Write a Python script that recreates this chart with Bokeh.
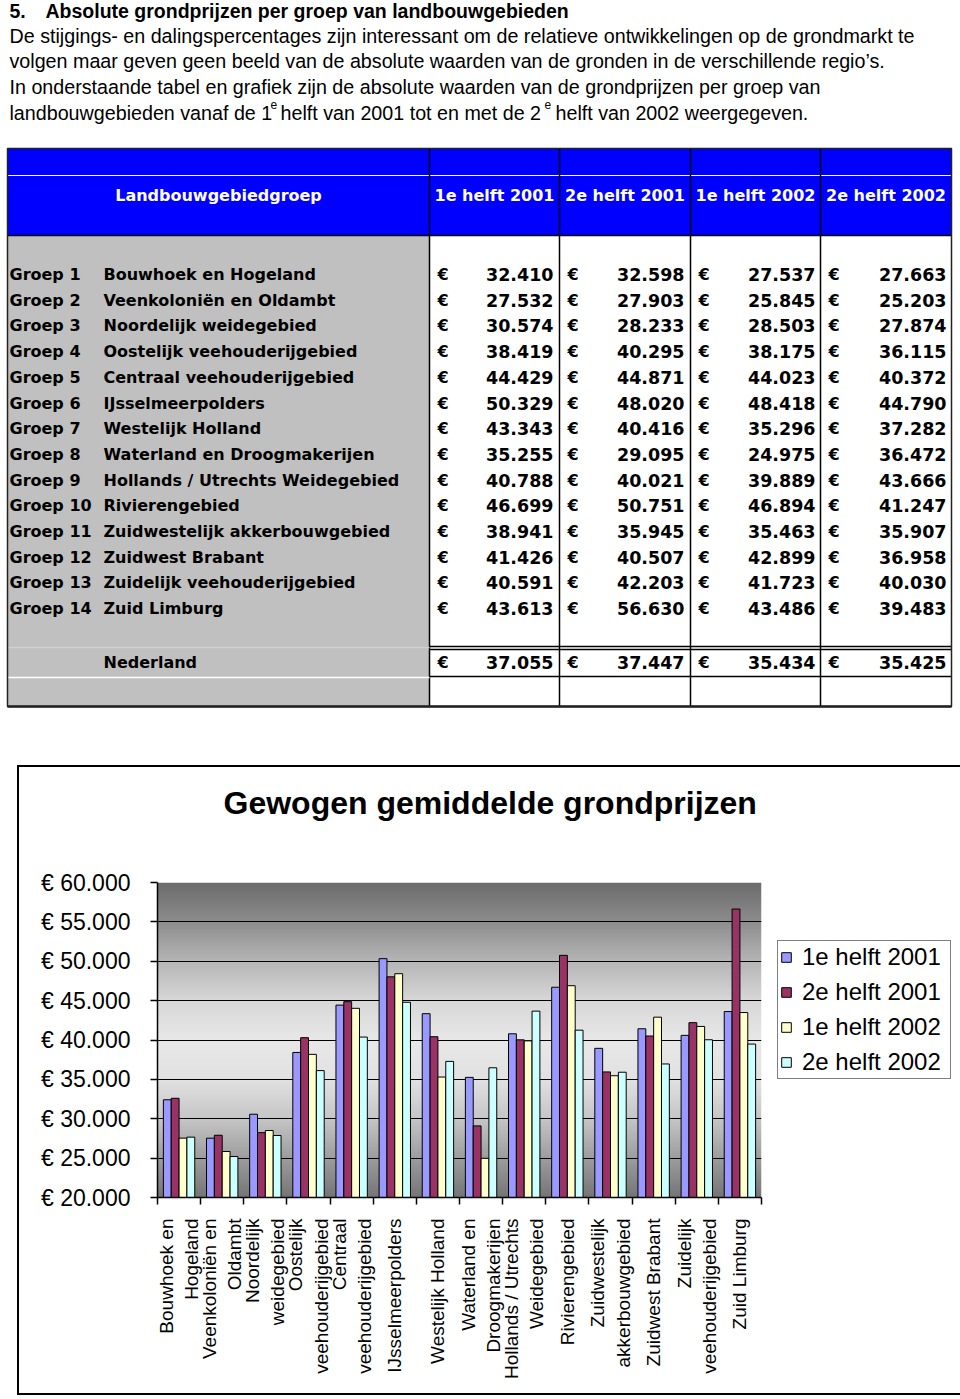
import math
import numpy as np
from bokeh.plotting import figure
from bokeh.models import Range1d, FixedTicker, Legend, LegendItem
from bokeh.layouts import column
from bokeh.embed import file_html
from bokeh.resources import INLINE
from bokeh.core.properties import value

# ---------------- data ----------------
heading_num = "5."
heading = "Absolute grondprijzen per groep van landbouwgebieden"
para_lines = [
    "De stijgings- en dalingspercentages zijn interessant om de relatieve ontwikkelingen op de grondmarkt te",
    "volgen maar geven geen beeld van de absolute waarden van de gronden in de verschillende regio\u2019s.",
    "In onderstaande tabel en grafiek zijn de absolute waarden van de grondprijzen per groep van",
]
last_line_parts = ["landbouwgebieden vanaf de 1", " helft van 2001 tot en met de 2", " helft van 2002 weergegeven."]
sup_text = "e"

header_first = "Landbouwgebiedgroep"
periods = ["1e helft 2001", "2e helft 2001", "1e helft 2002", "2e helft 2002"]
groups = ["Groep 1", "Groep 2", "Groep 3", "Groep 4", "Groep 5", "Groep 6", "Groep 7",
          "Groep 8", "Groep 9", "Groep 10", "Groep 11", "Groep 12", "Groep 13", "Groep 14"]
regions = ["Bouwhoek en Hogeland", "Veenkoloniën en Oldambt", "Noordelijk weidegebied",
           "Oostelijk veehouderijgebied", "Centraal veehouderijgebied", "IJsselmeerpolders",
           "Westelijk Holland", "Waterland en Droogmakerijen", "Hollands / Utrechts Weidegebied",
           "Rivierengebied", "Zuidwestelijk akkerbouwgebied", "Zuidwest Brabant",
           "Zuidelijk veehouderijgebied", "Zuid Limburg"]
h1_2001 = [32410, 27532, 30574, 38419, 44429, 50329, 43343, 35255, 40788, 46699, 38941, 41426, 40591, 43613]
h2_2001 = [32598, 27903, 28233, 40295, 44871, 48020, 40416, 29095, 40021, 50751, 35945, 40507, 42203, 56630]
h1_2002 = [27537, 25845, 28503, 38175, 44023, 48418, 35296, 24975, 39889, 46894, 35463, 42899, 41723, 43486]
h2_2002 = [27663, 25203, 27874, 36115, 40372, 44790, 37282, 36472, 43666, 41247, 35907, 36958, 40030, 39483]
nederland_label = "Nederland"
nederland = [37055, 37447, 35434, 35425]

chart_title = "Gewogen gemiddelde grondprijzen"
axis_labels = ["Bouwhoek en\nHogeland", "Veenkoloniën en\nOldambt", "Noordelijk\nweidegebied",
               "Oostelijk\nveehouderijgebied", "Centraal\nveehouderijgebied", "IJsselmeerpolders",
               "Westelijk Holland", "Waterland en\nDroogmakerijen", "Hollands / Utrechts\nWeidegebied",
               "Rivierengebied", "Zuidwestelijk\nakkerbouwgebied", "Zuidwest Brabant",
               "Zuidelijk\nveehouderijgebied", "Zuid Limburg"]
y_ticks = [20000, 25000, 30000, 35000, 40000, 45000, 50000, 55000, 60000]
series = [h1_2001, h2_2001, h1_2002, h2_2002]
colors = ["#9999FF", "#993366", "#FFFFCC", "#CCFFFF"]


def fmt(v):
    return f"{v:,}".replace(",", ".")


# ---------------- page text + table ----------------
SANS = value("Liberation Sans")
TBL = value("DejaVu Sans")
BOLD = value("bold")

p1 = figure(width=958, height=745, x_range=Range1d(0, 958), y_range=Range1d(745, 0),
            toolbar_location=None, output_backend="svg", min_border=0,
            x_axis_type=None, y_axis_type=None, outline_line_color=None)
p1.frame_align = False
p1.grid.visible = False

# heading and paragraph
p1.text(x=[9, 45], y=[10, 10], text=[heading_num, heading], text_font=SANS, text_font_style=BOLD,
        text_font_size="19.5px", text_baseline="middle", text_color="black")
p1.text(x=[9, 9, 9], y=[35, 60, 86], text=para_lines, text_font=SANS, text_font_size="19.7px",
        text_baseline="middle", text_color="black")
p1.text(x=[9, 280, 555], y=[112, 112, 112], text=last_line_parts, text_font=SANS,
        text_font_size="19.7px", text_baseline="middle", text_color="black")
p1.text(x=[270, 544], y=[104, 104], text=[sup_text, sup_text], text_font=SANS,
        text_font_size="12px", text_baseline="middle", text_color="black")

# table backgrounds
col_edges = [429, 559, 690, 820, 951]
p1.quad(left=[7], right=[951], top=[148], bottom=[235], fill_color="#0000FF", line_color=None)
p1.quad(left=[7], right=[429], top=[235], bottom=[706], fill_color="#C0C0C0", line_color=None)
p1.segment(x0=[7], y0=[175], x1=[951], y1=[175], line_color="white", line_width=1.2)
# lines
p1.segment(x0=col_edges[:-1], y0=[148] * 4, x1=col_edges[:-1], y1=[706] * 4, line_color="black", line_width=1.5)
p1.segment(x0=[7, 429, 429, 429], y0=[235, 646, 649, 676], x1=[951, 951, 951, 951], y1=[235, 646, 649, 676],
           line_color="black", line_width=1.3)
p1.segment(x0=[7, 7], y0=[647, 677], x1=[429, 429], y1=[647, 677], line_color=["#d0d0d0", "white"], line_width=1.5)
p1.quad(left=[7], right=[951], top=[148], bottom=[706], fill_color=None, line_color="#222222", line_width=1.5)
p1.segment(x0=[7], y0=[706], x1=[951], y1=[706], line_color="#222222", line_width=2.5)

# header text
col_centers = [494, 624.5, 755, 885.5]
p1.text(x=[218] + col_centers, y=[195] * 5, text=[header_first] + periods, text_font=TBL,
        text_font_style=BOLD, text_font_size="16px", text_align="center", text_baseline="middle",
        text_color="white")

# rows
row_y = [274 + i * 25.7 for i in range(len(groups))]
p1.text(x=[9] * len(groups), y=row_y, text=groups, text_font=TBL, text_font_style=BOLD,
        text_font_size="16px", text_baseline="middle", text_color="black")
p1.text(x=[103] * len(regions), y=row_y, text=regions, text_font=TBL, text_font_style=BOLD,
        text_font_size="16px", text_baseline="middle", text_color="black")
p1.text(x=[103], y=[662], text=[nederland_label], text_font=TBL, text_font_style=BOLD,
        text_font_size="16px", text_baseline="middle", text_color="black")
euro_x = [437, 567, 698, 828]
num_right = [553, 684, 815, 946]
all_y = row_y + [662]
for c in range(4):
    vals = series[c] + [nederland[c]]
    p1.text(x=[euro_x[c]] * len(vals), y=all_y, text=["€"] * len(vals), text_font=TBL,
            text_font_style=BOLD, text_font_size="16px", text_baseline="middle", text_color="black")
    p1.text(x=[num_right[c]] * len(vals), y=all_y, text=[fmt(v) for v in vals], text_font=TBL,
            text_font_style=BOLD, text_font_size="17.5px", text_align="right", text_baseline="middle",
            text_color="black")

# ---------------- chart ----------------
n_groups = len(axis_labels)
p2 = figure(width=933, height=626, frame_width=600, frame_height=311,
            x_range=Range1d(0, n_groups), y_range=Range1d(y_ticks[0], y_ticks[-1]),
            toolbar_location=None, output_backend="svg",
            min_border_left=138, min_border_right=186, min_border_top=114, min_border_bottom=200,
            outline_line_color=None, margin=(20, 3, 0, 17),
            styles={"border": "2px solid black"})
p2.frame_align = False

# gradient plot-area background (decoration)
grad_pos = [0.0, 0.125, 0.25, 0.375, 0.5, 0.625, 0.75, 0.875, 1.0]
grad_val = [118, 158, 198, 226, 232, 216, 182, 142, 108]
nrow = 240
tt = np.linspace(0, 1, nrow)
gv = np.interp(tt, grad_pos, grad_val).astype(np.uint8)
img = np.zeros((nrow, 4), dtype=np.uint32)
view = img.view(dtype=np.uint8).reshape((nrow, 4, 4))
for ch in range(3):
    view[:, :, ch] = gv[:, None]
view[:, :, 3] = 255
p2.image_rgba(image=[img], x=0, y=y_ticks[0], dw=n_groups, dh=y_ticks[-1] - y_ticks[0], level="image")

w = 1 / 5.5
items = []
for k in range(4):
    xs = [i + 0.5 + (k - 1.5) * w for i in range(n_groups)]
    r = p2.vbar(x=xs, top=series[k], bottom=y_ticks[0], width=w, fill_color=colors[k],
                line_color="black", line_width=1)
    items.append(LegendItem(label=periods[k], renderers=[r]))

p2.xgrid.visible = False
p2.ygrid.ticker = FixedTicker(ticks=y_ticks)
p2.ygrid.grid_line_color = "black"
p2.ygrid.grid_line_width = 1.2

ya = p2.yaxis[0]
ya.ticker = FixedTicker(ticks=y_ticks)
ya.major_label_overrides = {t: "€ " + fmt(t) for t in y_ticks}
ya.major_label_text_font = "Liberation Sans"
ya.major_label_text_font_size = "23px"
ya.major_label_text_color = "black"
ya.axis_line_color = "black"
ya.axis_line_width = 1.5
ya.major_tick_out = 7
ya.major_tick_in = 0
ya.major_tick_line_color = "black"
ya.major_tick_line_width = 1.5
ya.minor_tick_line_color = None
ya.major_label_standoff = 20

xa = p2.xaxis[0]
centers = [i + 0.5 for i in range(n_groups)]
xa.ticker = FixedTicker(ticks=centers, minor_ticks=list(range(n_groups + 1)))
xa.major_label_overrides = {c: lab for c, lab in zip(centers, axis_labels)}
xa.major_label_orientation = math.pi / 2
xa.major_label_text_font = "Liberation Sans"
xa.major_label_text_font_size = "19px"
xa.major_label_text_color = "black"
xa.axis_line_color = "black"
xa.axis_line_width = 1.5
xa.major_tick_out = 0
xa.major_tick_in = 0
xa.minor_tick_out = 7
xa.minor_tick_in = 0
xa.minor_tick_line_color = "black"
xa.minor_tick_line_width = 1.5
xa.major_label_standoff = 14

p2.title.text = chart_title + "\n "
p2.title.text_font = "Liberation Sans"
p2.title.text_font_size = "32px"
p2.title.text_font_style = "bold"
p2.title.text_color = "black"
p2.title.text_line_height = 1.3
p2.title.align = "left"
p2.title.offset = 66
p2.title.standoff = 30

legend = Legend(items=items, location=(16, 118))
legend.label_text_font = "Liberation Sans"
legend.label_text_font_size = "24px"
legend.label_text_color = "black"
legend.glyph_width = 12
legend.glyph_height = 12
legend.label_height = 27
legend.label_width = 146
legend.spacing = 7
legend.padding = 2
legend.label_standoff = 10
legend.margin = 0
legend.border_line_color = "black"
legend.border_line_width = 1.5
legend.background_fill_color = "white"
legend.background_fill_alpha = 1
p2.add_layout(legend, "right")

page = column(p1, p2)
open("out.html", "w").write(file_html(page, INLINE))
